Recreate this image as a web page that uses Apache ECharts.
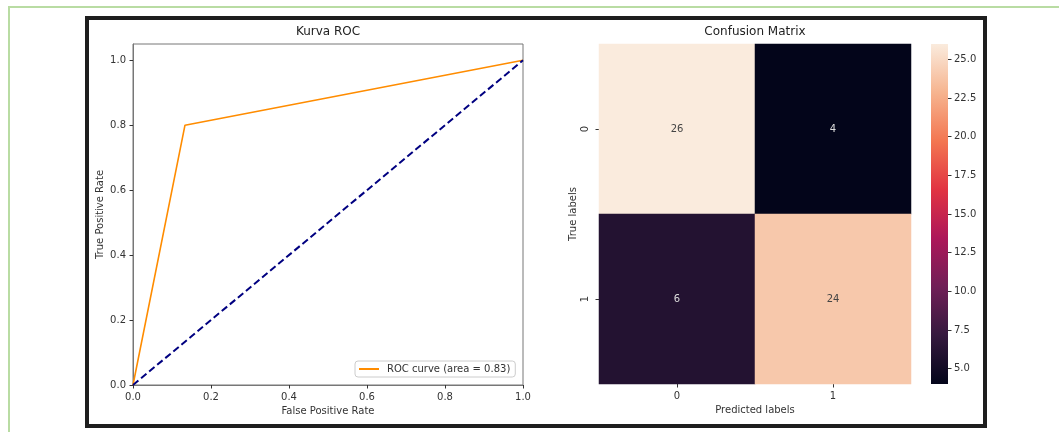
<!DOCTYPE html>
<html>
<head>
<meta charset="utf-8">
<title>Kurva ROC / Confusion Matrix</title>
<script src="https://cdn.jsdelivr.net/npm/echarts@6.0.0/dist/echarts.min.js"></script>
<style>
  html, body { margin: 0; padding: 0; background: #fff; }
  .page { position: relative; width: 1059px; height: 432px; overflow: hidden; }
  .green-top { position: absolute; left: 8px; top: 6px; right: 0; height: 2px; background: #b9dca3; }
  .green-left { position: absolute; left: 8px; top: 6px; bottom: 0; width: 2px; background: #b9dca3; }
  .frame { position: absolute; left: 85px; top: 16px; width: 902px; height: 412px; box-sizing: border-box; border: 4px solid #1e1e1e; }
  #chart { position: absolute; left: 0; top: 0; width: 1059px; height: 432px; }
</style>
</head>
<body>
<div class="page">
  <div class="green-top"></div>
  <div class="green-left"></div>
  <div class="frame"></div>
  <div id="chart"></div>
</div>
<script>
// ROC curve points
var fpr = [0, 0.1333, 1];
var tpr = [0, 0.8, 1];
// chance line
var diagX = [0, 1];
var diagY = [0, 1];
var rocTicks = [0, 0.2, 0.4, 0.6, 0.8, 1.0];

// confusion matrix
var cmLabels = ['0', '1'];
var cmRow0 = [26, 4];
var cmRow1 = [6, 24];
var cbMin = 4, cbMax = 26;
var cbTicks = [5, 7.5, 10, 12.5, 15, 17.5, 20, 22.5, 25];

// seaborn "rocket" approximated
var rocket = ['#03051a', '#35193e', '#701f57', '#ad1759', '#e13342', '#f37651', '#f6b48f', '#faebdd'];

var font = 'DejaVu Sans';
var txt = '#333';

var rocData = fpr.map(function (x, i) { return [x, tpr[i]]; });
var diagData = diagX.map(function (x, i) { return [x, diagY[i]]; });

var cmData = [];
[cmRow0, cmRow1].forEach(function (row, r) {
  row.forEach(function (v, c) {
    cmData.push({
      value: [c, r, v],
      label: { color: v > 15 ? '#444' : '#ddd' }
    });
  });
});

var mychart = echarts.init(document.getElementById('chart'));

var option = {
  backgroundColor: 'transparent',
  animation: false,
  textStyle: { fontFamily: font },
  title: [
    {
      text: 'Kurva ROC', left: 328, top: 26, textAlign: 'center', padding: 0,
      textStyle: { fontFamily: font, fontSize: 12, fontWeight: 'normal', color: '#222' }
    },
    {
      text: 'Confusion Matrix', left: 755, top: 26, textAlign: 'center', padding: 0,
      textStyle: { fontFamily: font, fontSize: 12, fontWeight: 'normal', color: '#222' }
    }
  ],
  legend: {
    left: 355, top: 361,
    padding: [3, 5, 3, 4],
    itemWidth: 20, itemHeight: 2,
    backgroundColor: 'rgba(255,255,255,0.8)',
    borderColor: '#cccccc', borderWidth: 1, borderRadius: 3,
    textStyle: { fontFamily: font, fontSize: 10, color: txt, padding: [0, 0, 0, 3] },
    data: [{ name: 'ROC curve (area = 0.83)', icon: 'rect' }]
  },
  grid: [
    { left: 133, top: 44, width: 390, height: 341, show: true, borderColor: '#777', borderWidth: 1, backgroundColor: 'transparent' },
    { left: 599, top: 44, width: 312, height: 340 },
    { left: 931, top: 44, width: 17, height: 340 }
  ],
  xAxis: [
    {
      gridIndex: 0, type: 'value', min: 0, max: 1,
      name: 'False Positive Rate', nameLocation: 'middle', nameGap: 20,
      nameTextStyle: { fontFamily: font, fontSize: 10, color: txt },
      axisLine: { show: true, onZero: false, lineStyle: { color: '#777' } },
      axisTick: { show: true, length: 3.5, customValues: rocTicks, lineStyle: { color: '#333' } },
      axisLabel: { customValues: rocTicks, margin: 7, fontFamily: font, fontSize: 10, color: txt, formatter: function (v) { return v.toFixed(1); } },
      splitLine: { show: false }
    },
    {
      gridIndex: 1, type: 'category', data: cmLabels,
      name: 'Predicted labels', nameLocation: 'middle', nameGap: 21,
      nameTextStyle: { fontFamily: font, fontSize: 10, color: txt },
      axisLine: { show: false },
      axisTick: { show: true, alignWithLabel: true, length: 3.5, lineStyle: { color: '#333' } },
      axisLabel: { margin: 7, fontFamily: font, fontSize: 10, color: txt },
      splitArea: { show: false }
    },
    { gridIndex: 2, type: 'value', min: 0, max: 1, show: false, axisLine: { onZero: false } }
  ],
  yAxis: [
    {
      gridIndex: 0, type: 'value', min: 0, max: 1.05,
      name: 'True Positive Rate', nameLocation: 'middle', nameGap: 28,
      nameTextStyle: { fontFamily: font, fontSize: 10, color: txt },
      axisLine: { show: true, onZero: false, lineStyle: { color: '#777' } },
      axisTick: { show: true, length: 3.5, customValues: rocTicks, lineStyle: { color: '#333' } },
      axisLabel: { customValues: rocTicks, margin: 7, fontFamily: font, fontSize: 10, color: txt, formatter: function (v) { return v.toFixed(1); } },
      splitLine: { show: false }
    },
    {
      gridIndex: 1, type: 'category', data: cmLabels, inverse: true,
      name: 'True labels', nameLocation: 'middle', nameGap: 21,
      nameTextStyle: { fontFamily: font, fontSize: 10, color: txt },
      axisLine: { show: false },
      axisTick: { show: true, alignWithLabel: true, length: 3.5, lineStyle: { color: '#333' } },
      axisLabel: { rotate: 90, margin: 9, fontFamily: font, fontSize: 10, color: txt },
      splitArea: { show: false }
    },
    {
      gridIndex: 2, type: 'value', min: cbMin, max: cbMax, position: 'right',
      axisLine: { show: false, onZero: false },
      axisTick: { show: true, length: 3.5, customValues: cbTicks, lineStyle: { color: '#333' } },
      axisLabel: { customValues: cbTicks, margin: 6, fontFamily: font, fontSize: 10, color: txt, formatter: function (v) { return v.toFixed(1); } },
      splitLine: { show: false }
    }
  ],
  visualMap: {
    type: 'continuous', seriesIndex: 2, show: false,
    min: cbMin, max: cbMax,
    inRange: { color: rocket }
  },
  series: [
    {
      name: 'ROC curve (area = 0.83)', type: 'line',
      xAxisIndex: 0, yAxisIndex: 0,
      data: rocData, symbol: 'none', color: '#ff8c00',
      lineStyle: { color: '#ff8c00', width: 1.6 }
    },
    {
      name: 'chance', type: 'line',
      xAxisIndex: 0, yAxisIndex: 0,
      data: diagData, symbol: 'none', color: '#000080',
      lineStyle: { color: '#000080', width: 2, type: [7, 3.5] }
    },
    {
      name: 'cm', type: 'heatmap',
      xAxisIndex: 1, yAxisIndex: 1,
      data: cmData,
      label: { show: true, fontFamily: font, fontSize: 10 },
      itemStyle: { borderWidth: 0 },
      emphasis: { disabled: true }
    }
  ]
};

mychart.setOption(option);

// colorbar strip placed on the colorbar axis
var cbTop = mychart.convertToPixel({ yAxisIndex: 2 }, cbMax);
var cbBottom = mychart.convertToPixel({ yAxisIndex: 2 }, cbMin);
var cbLeft = mychart.convertToPixel({ xAxisIndex: 2 }, 0);
var cbRight = mychart.convertToPixel({ xAxisIndex: 2 }, 1);
var stops = rocket.map(function (c, i) {
  return { offset: 1 - i / (rocket.length - 1), color: c };
}).reverse();
mychart.setOption({
  graphic: [{
    type: 'rect', silent: true, z: -1,
    shape: { x: cbLeft, y: cbTop, width: cbRight - cbLeft, height: cbBottom - cbTop },
    style: { fill: new echarts.graphic.LinearGradient(0, 0, 0, 1, stops) }
  }]
});
</script>
</body>
</html>
